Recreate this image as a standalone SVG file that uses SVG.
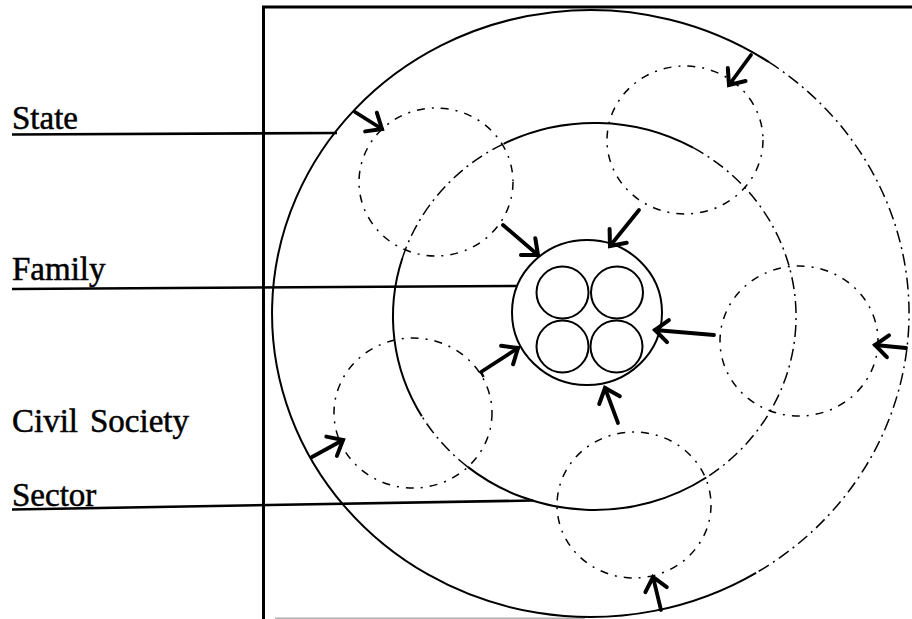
<svg xmlns="http://www.w3.org/2000/svg" width="912" height="619" viewBox="0 0 912 619">
  <style>
    .solid { fill: none; stroke: #000; stroke-width: 2; }
    .dd { fill: none; stroke: #000; stroke-width: 1.5; stroke-dasharray: 12 5 2 5; }
    .sat { fill: none; stroke: #000; stroke-width: 1.5; stroke-dasharray: 8 7 2 7; }
    .frame { fill: none; stroke: #000; stroke-width: 3; }
    .lead { fill: none; stroke: #000; stroke-width: 2.6; }
    .arrow { fill: none; stroke: #000; stroke-width: 3.8; stroke-linecap: round; marker-end: url(#head); }
    .label { font-family: "Liberation Serif", "Times New Roman", serif; font-size: 33px; fill: #000; stroke: #000; stroke-width: 0.5; }
  </style>
  <defs>
    <marker id="head" markerUnits="userSpaceOnUse" viewBox="-16 -14 20 28" markerWidth="20" markerHeight="28" refX="0" refY="0" orient="auto" overflow="visible">
      <path d="M-13,-11 L0,0 L-13,11" fill="none" stroke="#000" stroke-width="4" stroke-linecap="round" stroke-linejoin="miter"/>
    </marker>
  </defs>
  <rect width="912" height="619" fill="#fff"/>

  <g id="frame">
    <path class="frame" d="M263.5,6 L263.5,619 M262,7 L912,7"/>
    <path d="M275,618.3 L585,618.3" stroke="#b0b0b0" stroke-width="1.5" fill="none"/>
  </g>

  <g id="state-ring">
    <path class="solid" d="M756.1,572.8 A318.5,303.5 0 1 1 769.05,62.17"/>
    <path class="dd" d="M769.05,62.17 A318.5,303.5 0 0 1 756.1,572.8"/>
  </g>

  <g id="civil-society-ring">
    <path class="dd" d="M402.4,258.0 A201.5,193.5 0 0 1 503.6,143.8"/>
    <path class="solid" d="M503.6,143.8 A201.5,193.5 0 0 1 693.1,147.7"/>
    <path class="dd" d="M693.1,147.7 A201.5,193.5 0 0 1 706.3,477.5"/>
    <path class="solid" d="M706.3,477.5 A201.5,193.5 0 0 1 467.7,466.9"/>
    <path class="dd" d="M467.7,466.9 A201.5,193.5 0 0 1 421.8,416.2"/>
    <path class="solid" d="M421.8,416.2 A201.5,193.5 0 0 1 402.4,258.0"/>
  </g>

  <g id="sector-top-left"><ellipse class="sat" cx="436" cy="182" rx="77" ry="74"/></g>
  <g id="sector-top-right"><ellipse class="sat" cx="685" cy="140" rx="78" ry="74"/></g>
  <g id="sector-right"><ellipse class="sat" cx="799" cy="341" rx="79" ry="75"/></g>
  <g id="sector-bottom-left"><ellipse class="sat" cx="413" cy="413" rx="79" ry="75"/></g>
  <g id="sector-bottom"><ellipse class="sat" cx="634" cy="505" rx="77" ry="73"/></g>

  <g id="family">
    <ellipse class="solid" cx="587" cy="312.5" rx="75" ry="72.5"/>
    <circle class="solid" cx="562.5" cy="292.5" r="26" stroke-width="1.8"/>
    <circle class="solid" cx="617" cy="292.5" r="26" stroke-width="1.8"/>
    <circle class="solid" cx="562.5" cy="346.5" r="26" stroke-width="1.8"/>
    <circle class="solid" cx="616.5" cy="346.5" r="26" stroke-width="1.8"/>
  </g>

  <g id="labels">
    <text class="label" x="12" y="129">State</text>
    <text class="label" x="12" y="280">Family</text>
    <text class="label" x="12" y="432">Civil<tspan x="90">Society</tspan></text>
    <text class="label" x="12" y="506">Sector</text>
  </g>

  <g id="connectors">
    <path class="lead" d="M12,134.5 L337,133"/>
    <path class="lead" d="M12,289 L517,286"/>
    <path class="lead" d="M12,509.5 L533,500.5"/>
    <path class="arrow" d="M355,112 L382,129"/>
    <path class="arrow" d="M751,55 L729,85"/>
    <path class="arrow" d="M503,225 L538,255"/>
    <path class="arrow" d="M639,210 L610,246"/>
    <path class="arrow" d="M714,335 L655,330"/>
    <path class="arrow" d="M618,423 L605,388"/>
    <path class="arrow" d="M481,372 L518,348"/>
    <path d="M481,372 L483.5,377" fill="none" stroke="#000" stroke-width="2.5"/>
    <path class="arrow" d="M906,348 L875,345"/>
    <path class="arrow" d="M661,610 L653,577"/>
    <path class="arrow" d="M312,457 L343,440"/>
  </g>
</svg>
